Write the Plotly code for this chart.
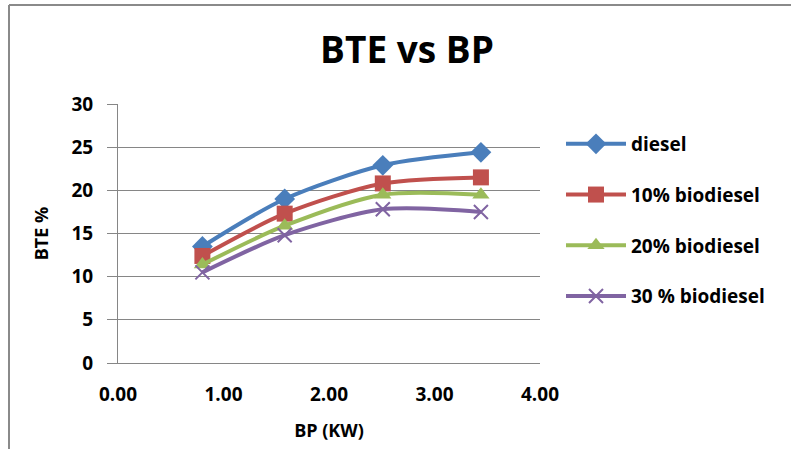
import plotly.graph_objects as go

bp = [0.80, 1.58, 2.51, 3.44]
diesel = [13.5, 19.0, 22.9, 24.4]
bio10 = [12.4, 17.3, 20.8, 21.5]
bio20 = [11.4, 15.9, 19.5, 19.5]
bio30 = [10.5, 14.8, 17.8, 17.5]

names = ["diesel", "10% biodiesel", "20% biodiesel", "30 % biodiesel"]
values = [diesel, bio10, bio20, bio30]
colors = ["#4A7EBB", "#C0504D", "#9BBB59", "#8064A2"]
symbols = ["diamond", "square", "triangle-up", "x-thin"]
sizes = [16, 16, 15, 14]

fig = go.Figure()
for i in range(len(names)):
    sym = symbols[i]
    fig.add_trace(go.Scatter(
        x=bp, y=values[i], name=f"<b>{names[i]}</b>", mode="lines+markers",
        line=dict(color=colors[i], width=4, shape="spline", smoothing=0.8),
        marker=dict(symbol=sym, size=sizes[i], color=colors[i],
                    line=dict(color=colors[i], width=2 if sym == "x-thin" else 0)),
        legendgroup=f"g{i}",
    ))

FF = "'Open Sans', Lato, sans-serif"
L, R, T, B = 118, 540, 104, 363
W, H = 791, 449

def pxx(px):
    return (px - L) / (R - L)

def pxy(py):
    return (B - py) / (B - T)

fig.update_layout(
    width=W, height=H,
    margin=dict(l=L, r=W - R, t=T, b=H - B),
    paper_bgcolor="white", plot_bgcolor="white",
    title=dict(text="<b>BTE vs BP</b>", x=pxx(407), xref="paper", xanchor="center",
               y=1 - 50 / H, yanchor="middle",
               font=dict(family=FF, size=37, color="black")),
    font=dict(family=FF, color="black"),
    legend=dict(x=pxx(561), y=pxy(125), xanchor="left", yanchor="top",
                font=dict(family=FF, size=19, color="black"),
                tracegroupgap=23, itemwidth=60, bgcolor="rgba(0,0,0,0)"),
    showlegend=True,
    shapes=[
        dict(type="line", xref="paper", yref="paper",
             x0=pxx(9), y0=pxy(452), x1=pxx(9), y1=pxy(5),
             line=dict(color="#8a8a8a", width=2)),
        dict(type="line", xref="paper", yref="paper",
             x0=pxx(9), y0=pxy(5), x1=pxx(795), y1=pxy(5),
             line=dict(color="#8a8a8a", width=2)),
    ],
)

fig.update_xaxes(
    range=[0, 4], dtick=1, tick0=0, tickformat=".2f",
    showgrid=False, zeroline=False, showline=True, linecolor="#868686", linewidth=1,
    ticks="", ticklabelstandoff=14,
    tickfont=dict(family=FF, size=19, color="black"),
    tickprefix="<b>", ticksuffix="</b>",
    title=dict(text="<b>BP (KW)</b>", font=dict(family=FF, size=18, color="black"), standoff=18),
)
fig.update_yaxes(
    range=[0, 30], dtick=5, tick0=0,
    showgrid=True, gridcolor="#868686", gridwidth=1, zeroline=False,
    showline=True, linecolor="#868686", linewidth=1,
    ticks="outside", ticklen=10, tickcolor="#868686", ticklabelstandoff=10,
    tickfont=dict(family=FF, size=19, color="black"),
    tickprefix="<b>", ticksuffix="</b>",
    title=dict(text="<b>BTE %</b>", font=dict(family=FF, size=18, color="black"), standoff=18),
)

fig.write_html("out.html")
